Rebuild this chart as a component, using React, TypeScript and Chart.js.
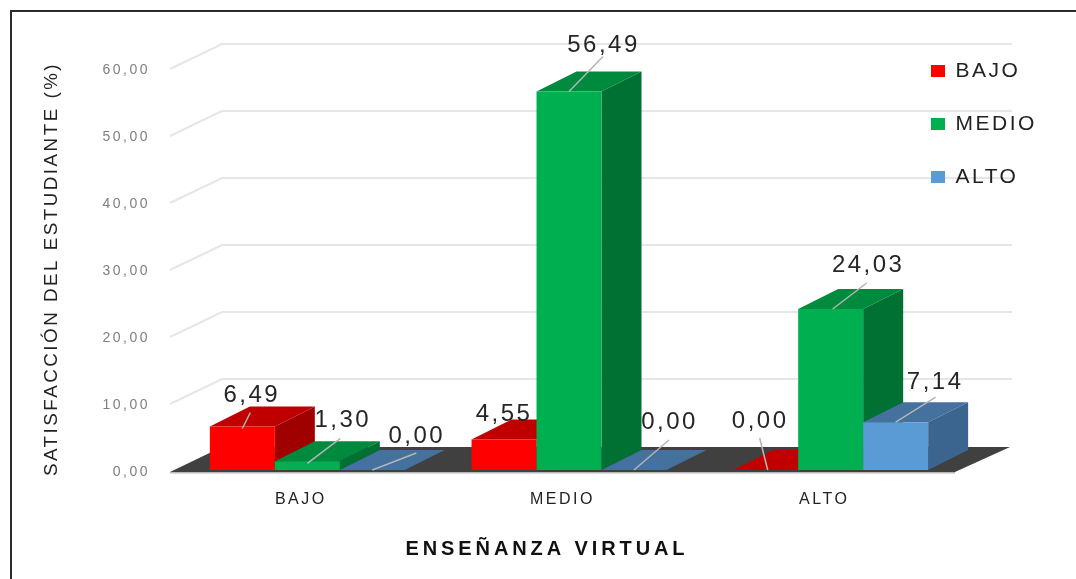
import React, { useEffect, useRef } from "react";
import { Chart, registerables } from "chart.js";

Chart.register(...registerables);

const categories = ["BAJO", "MEDIO", "ALTO"];
const bajoValues = [6.49, 4.55, 0.0];
const medioValues = [1.3, 56.49, 24.03];
const altoValues = [0.0, 0.0, 7.14];
const yTickStep = 10;
const yMax = 60;
const yAxisTitle = "SATISFACCIÓN DEL ESTUDIANTE (%)";
const xAxisTitle = "ENSEÑANZA VIRTUAL";

const DEPTH_X = 40;
const DEPTH_Y = 20;
const GROUP_SHIFT = 6.5;
const faces = [
  { top: "#C00000", side: "#A00000" },
  { top: "#008A3E", side: "#007033" },
  { top: "#44719E", side: "#3B658E" },
];
// label offsets from bar front-top centre: [label dx, label dy, leader start dx, dy, leader end dx, dy]
const labelOffsets: number[][][] = [
  [[9.5, -31, 8, -14, 0, 2], [0, -25, 0, 0, 0, 0], [-5.5, -49, -6, -32, 2, 0]],
  [[35.5, -41, 33, -23, 0, 2], [34.5, -46, 34, -35, 0, 0], [37.5, -44, 36, -26, 2, 0]],
  [[44.5, -34, 44, -17, 0, 0], [35.5, -48, 35, -30, 0, 0], [39.5, -40, 40, -25, 0, 0]],
];

const fmt = (v: number) => v.toFixed(2).replace(".", ",");

const scene = {
  id: "scene",
  afterLayout(chart: any) {
    const l = chart.legend;
    if (!l) return;
    l.left = 899;
    l.right = 1070;
    l.top = 28.5;
    l.bottom = 570;
  },
  beforeDraw(chart: any) {
    const { ctx, scales } = chart;
    const y = scales.y;
    const x = scales.x;
    ctx.save();
    ctx.fillStyle = "#fff";
    ctx.fillRect(0, 0, chart.width, chart.height);
    // frame
    ctx.strokeStyle = "#2b2b2b";
    ctx.lineWidth = 2;
    ctx.beginPath();
    ctx.moveTo(11, 585);
    ctx.lineTo(11, 11);
    ctx.lineTo(1080, 11);
    ctx.stroke();
    // wall grid
    const gx = 52;
    const gy = 24;
    ctx.strokeStyle = "#e6e6e6";
    ctx.lineWidth = 2;
    for (const t of y.ticks) {
      if (t.value === 0) continue;
      const py = y.getPixelForValue(t.value);
      ctx.beginPath();
      ctx.moveTo(x.left, py + 1);
      ctx.lineTo(x.left + gx, py - gy);
      ctx.lineTo(x.right + 57, py - gy);
      ctx.stroke();
    }
    // floor
    const fy = y.getPixelForValue(0);
    ctx.fillStyle = "#404040";
    ctx.beginPath();
    ctx.moveTo(x.left, fy + 2);
    ctx.lineTo(x.right, fy + 2);
    ctx.lineTo(x.right + 55, fy - 23);
    ctx.lineTo(x.left + gx, fy - 23);
    ctx.closePath();
    ctx.fill();
    ctx.fillStyle = "#b8b8b8";
    ctx.fillRect(x.left, fy + 2, x.right - x.left, 1.5);
    ctx.restore();
    ctx.letterSpacing = "2.5px";
  },
  afterDatasetUpdate(chart: any, args: any) {
    for (const bar of args.meta.data) bar.x += GROUP_SHIFT;
  },
  // bars are painted left to right below, so later boxes cover earlier side faces
  beforeDatasetDraw() {
    return false;
  },
  afterDatasetsDraw(chart: any) {
    const { ctx } = chart;
    chart.data.datasets.forEach((_: any, di: number) => {
      const meta = chart.getDatasetMeta(di);
      const f = faces[di];
      ctx.save();
      for (const bar of meta.data) {
        const l = bar.x - bar.width / 2;
        const r = bar.x + bar.width / 2;
        const t = bar.y;
        const b = bar.base;
        ctx.fillStyle = f.top;
        ctx.beginPath();
        ctx.moveTo(l, t);
        ctx.lineTo(r, t);
        ctx.lineTo(r + DEPTH_X, t - DEPTH_Y);
        ctx.lineTo(l + DEPTH_X, t - DEPTH_Y);
        ctx.closePath();
        ctx.fill();
        if (b - t > 0.5) {
          ctx.fillStyle = f.side;
          ctx.beginPath();
          ctx.moveTo(r, t);
          ctx.lineTo(r + DEPTH_X, t - DEPTH_Y);
          ctx.lineTo(r + DEPTH_X, b - DEPTH_Y);
          ctx.lineTo(r, b);
          ctx.closePath();
          ctx.fill();
        }
      }
      ctx.restore();
      meta.controller.draw();
    });
  },
  afterDraw(chart: any) {
    const { ctx } = chart;
    ctx.save();
    ctx.fillStyle = "#111";
    ctx.font = 'bold 20px "Liberation Sans"';
    ctx.letterSpacing = "3.9px";
    ctx.textAlign = "center";
    ctx.textBaseline = "middle";
    ctx.fillText(xAxisTitle, 547, 549);
    chart.data.datasets.forEach((ds: any, di: number) => {
      const meta = chart.getDatasetMeta(di);
      meta.data.forEach((bar: any, i: number) => {
        const o = labelOffsets[di][i];
        if (o[2] !== 0 || o[3] !== 0) {
          ctx.strokeStyle = "#b5b5b5";
          ctx.lineWidth = 1.5;
          ctx.beginPath();
          ctx.moveTo(bar.x + o[2], bar.y + o[3]);
          ctx.lineTo(bar.x + o[4], bar.y + o[5]);
          ctx.stroke();
        }
        ctx.fillStyle = "#262626";
        ctx.font = '24px "Liberation Sans"';
        ctx.letterSpacing = "2.5px";
        ctx.fillText(fmt(ds.data[i]), bar.x + o[0], bar.y + o[1]);
      });
    });
    ctx.restore();
  },
};

export default function App() {
  const ref = useRef<HTMLCanvasElement>(null);
  useEffect(() => {
    const chart = new Chart(ref.current as HTMLCanvasElement, {
      type: "bar",
      data: {
        labels: categories,
        datasets: [
          { label: "BAJO", data: bajoValues, backgroundColor: "#FF0000" },
          { label: "MEDIO", data: medioValues, backgroundColor: "#00B050" },
          { label: "ALTO", data: altoValues, backgroundColor: "#5B9BD5" },
        ],
      },
      plugins: [scene],
      options: {
        animation: false,
        responsive: false,
        layout: { padding: { top: 68, right: 120, bottom: 0, left: 0 } },
        datasets: { bar: { categoryPercentage: 0.745, barPercentage: 1, borderWidth: 0 } },
        plugins: {
          title: { display: false },
          tooltip: { enabled: false },
          legend: {
            display: true,
            position: "right",
            align: "start",
            maxWidth: 1,
            labels: {
              boxWidth: 14,
              boxHeight: 12,
              color: "#222",
              padding: 32,
              font: { family: "Liberation Sans", size: 21 },
            },
          },
        },
        scales: {
          x: {
            grid: { display: false },
            border: { display: false },
            ticks: { color: "#222", font: { family: "Liberation Sans", size: 16 }, padding: 12 },
            afterFit: (s: any) => { s.height = 109; },
          },
          y: {
            min: 0,
            max: yMax,
            grid: { display: false },
            border: { display: false },
            ticks: {
              stepSize: yTickStep,
              color: "#808080",
              padding: 12,
              labelOffset: 2,
              font: { family: "Liberation Sans", size: 14 },
              callback: (v: any) => fmt(Number(v)),
            },
            title: {
              display: true,
              text: yAxisTitle,
              color: "#222",
              font: { family: "Liberation Sans", size: 18.8, weight: "normal" },
              padding: { top: 41, bottom: 0 },
            },
            afterFit: (s: any) => { s.width = 170; },
          },
        },
      },
    } as any);
    return () => chart.destroy();
  }, []);
  return (
    <canvas
      ref={ref}
      width={1076}
      height={579}
      style={{ position: "absolute", left: 0, top: 0, width: 1076, height: 579, display: "block" }}
    />
  );
}
